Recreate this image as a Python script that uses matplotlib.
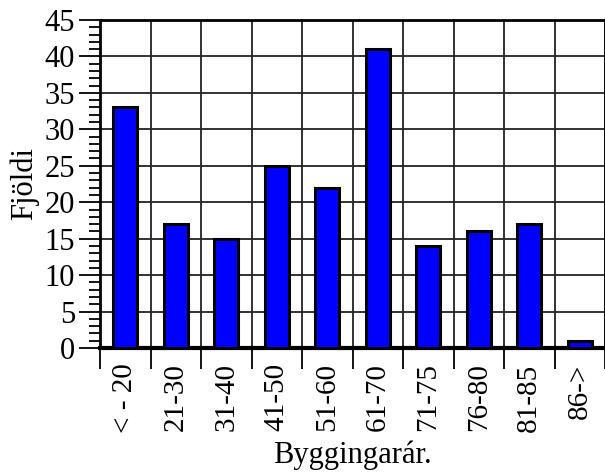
import numpy as np
import matplotlib.pyplot as plt
from matplotlib.ticker import MultipleLocator, FixedLocator

plt.rcParams['font.family'] = ['Liberation Serif', 'DejaVu Serif']

# building-year groups and counts
categories = ["< - 20", "21-30", "31-40", "41-50", "51-60",
              "61-70", "71-75", "76-80", "81-85", "86->"]
counts = [33, 17, 15, 25, 22, 41, 14, 16, 17, 1]

fig = plt.figure(figsize=(6.05, 4.74), dpi=100)
ax = fig.add_axes([100 / 605, 1 - 348 / 474, 505 / 605, 328 / 474])

x = np.arange(len(categories))
ax.bar(x, counts, width=0.47, color='#0000ff', edgecolor='black',
       linewidth=2.2, zorder=3)

ax.set_xlim(-0.5, len(categories) - 0.5)
ax.set_ylim(0, 45)

# y axis: majors every 5, minors every 1
ax.yaxis.set_major_locator(MultipleLocator(5))
ax.yaxis.set_minor_locator(MultipleLocator(1))
ax.tick_params(axis='y', which='major', length=15, width=1.3, labelsize=22, pad=3)
ax.tick_params(axis='y', which='minor', length=8, width=1.3)

# x axis: ticks on category boundaries, labels at centres
ax.xaxis.set_major_locator(FixedLocator(np.arange(len(categories) + 1) - 0.5))
ax.xaxis.set_minor_locator(FixedLocator(x))
ax.set_xticklabels([], minor=False)
ax.set_xticks(x, categories, minor=True, rotation=90)
ax.tick_params(axis='x', which='major', length=15, width=1.3)
ax.tick_params(axis='x', which='minor', length=0, labelsize=21, pad=11)

ax.grid(True, which='major', color='#222222', linewidth=1.3, zorder=0)
ax.set_axisbelow(True)

ax.spines['left'].set_linewidth(2)
ax.spines['top'].set_linewidth(2)
ax.spines['bottom'].set_linewidth(3)
ax.spines['right'].set_linewidth(2)

ax.set_ylabel("Fjöldi", fontsize=22, labelpad=4)
ax.set_xlabel("Byggingarár.", fontsize=22, va='center')
ax.xaxis.set_label_coords(252 / 505, (348 - 455) / 328)

fig.savefig("out.png", dpi=100)
